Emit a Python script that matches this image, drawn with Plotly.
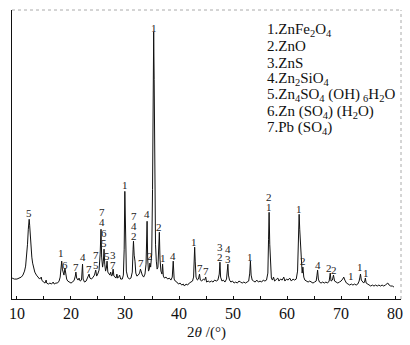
import plotly.graph_objects as go

# XRD pattern: 2theta (deg) and intensity (arb. units)
two_theta = [
    9.1, 9.5, 10.0, 10.4, 10.8, 11.1, 11.4, 11.6, 11.8, 11.95, 12.1, 12.2, 12.26, 12.35, 12.45,
    12.6, 12.75, 12.9, 13.1, 13.3, 13.6, 13.9, 14.2, 14.5, 14.6, 14.9, 15.2, 15.4, 15.5, 15.8,
    16.1, 16.4, 16.7, 16.9, 17.2, 17.5, 17.8, 18.0, 18.15, 18.28, 18.4, 18.55, 18.7, 18.88, 19.0,
    19.2, 19.4, 19.7, 20.0, 20.3, 20.6, 20.8, 20.91, 21.05, 21.3, 21.5, 21.7, 21.95, 22.05, 22.14,
    22.25, 22.5, 22.8, 23.0, 23.2, 23.35, 23.5, 23.8, 24.1, 24.35, 24.58, 24.75, 24.95, 25.2, 25.4,
    25.56, 25.68, 25.85, 26.0, 26.12, 26.25, 26.4, 26.55, 26.68, 26.82, 27.0, 27.2, 27.35, 27.5, 27.65,
    27.8, 27.95, 28.15, 28.35, 28.5, 28.65, 28.85, 29.0, 29.2, 29.5, 29.7, 29.85, 29.97, 30.1, 30.25,
    30.5, 30.8, 31.1, 31.35, 31.5, 31.57, 31.7, 31.85, 32.0, 32.2, 32.45, 32.7, 32.86, 33.0, 33.2,
    33.45, 33.7, 33.9, 34.0, 34.09, 34.2, 34.35, 34.5, 34.6, 34.75, 34.95, 35.1, 35.22, 35.31, 35.4,
    35.5, 35.65, 35.8, 35.95, 36.1, 36.25, 36.36, 36.48, 36.65, 36.85, 36.96, 37.1, 37.3, 37.6, 37.9,
    38.2, 38.5, 38.75, 38.93, 39.1, 39.3, 39.6, 39.9, 40.2, 40.5, 40.8, 41.0, 41.3, 41.6, 41.9,
    42.2, 42.5, 42.7, 42.82, 42.9, 43.0, 43.15, 43.4, 43.6, 43.8, 43.95, 44.2, 44.5, 44.75, 44.95,
    45.1, 45.4, 45.7, 46.0, 46.3, 46.6, 46.9, 47.2, 47.45, 47.58, 47.7, 47.95, 48.2, 48.5, 48.8,
    48.95, 49.05, 49.15, 49.35, 49.6, 49.9, 50.2, 50.5, 50.8, 51.1, 51.4, 51.7, 52.0, 52.3, 52.6,
    52.9, 53.1, 53.22, 53.35, 53.55, 53.8, 54.1, 54.4, 54.7, 55.0, 55.3, 55.6, 55.9, 56.2, 56.45,
    56.58, 56.68, 56.8, 56.95, 57.1, 57.3, 57.5, 57.7, 58.0, 58.3, 58.5, 58.8, 59.1, 59.4, 59.6,
    59.9, 60.2, 60.5, 60.8, 61.1, 61.4, 61.7, 61.95, 62.1, 62.24, 62.35, 62.5, 62.65, 62.8, 62.94,
    63.1, 63.3, 63.6, 63.9, 64.2, 64.5, 64.8, 65.1, 65.4, 65.55, 65.66, 65.8, 66.0, 66.3, 66.6,
    66.9, 67.2, 67.5, 67.8, 68.0, 68.15, 68.4, 68.6, 68.8, 69.1, 69.4, 69.7, 70.0, 70.3, 70.5,
    70.7, 71.0, 71.3, 71.6, 71.9, 72.2, 72.5, 72.8, 73.1, 73.35, 73.5, 73.6, 73.75, 73.95, 74.2,
    74.4, 74.5, 74.65, 74.9, 75.2, 75.5, 75.8, 76.1, 76.4, 76.7, 77.0, 77.3, 77.6, 77.9, 78.2,
    78.45, 78.66, 78.9, 79.2, 79.5, 79.8,
]
intensity = [
    21, 20, 20, 21, 22, 24, 28, 33, 42, 55, 70, 78, 80, 74, 62,
    50, 42, 36, 31, 27, 24, 22, 20, 22, 19, 17, 16, 19, 16, 15,
    16, 15, 17, 15, 16, 16, 18, 22, 32, 38, 30, 27, 24, 31, 24,
    20, 18, 17, 16, 17, 19, 23, 27, 21, 19, 21, 18, 19, 27, 35,
    20, 17, 18, 20, 22, 25, 21, 20, 22, 24, 29, 23, 25, 29, 45,
    70, 42, 32, 38, 50, 35, 28, 31, 38, 27, 25, 24, 27, 23, 24,
    30, 23, 22, 21, 25, 21, 22, 24, 20, 20, 24, 50, 108, 55, 28,
    22, 20, 21, 27, 50, 58, 44, 38, 26, 23, 24, 26, 30, 26, 24,
    22, 25, 35, 60, 78, 40, 28, 30, 36, 32, 45, 110, 230, 268, 220,
    110, 55, 38, 30, 32, 48, 67, 40, 28, 25, 35, 23, 21, 22, 20,
    21, 19, 22, 38, 20, 18, 17, 15, 16, 14, 15, 13, 15, 14, 16,
    17, 18, 22, 38, 52, 38, 22, 19, 20, 25, 19, 18, 20, 19, 22,
    17, 18, 17, 18, 17, 19, 18, 19, 25, 37, 22, 18, 19, 17, 20,
    28, 35, 24, 19, 17, 18, 16, 17, 16, 18, 17, 16, 17, 16, 17,
    18, 26, 38, 24, 19, 18, 17, 19, 17, 18, 17, 19, 18, 19, 26,
    60, 87, 55, 28, 21, 19, 22, 18, 20, 21, 18, 20, 19, 22, 18,
    20, 19, 21, 18, 20, 19, 20, 28, 55, 85, 70, 50, 30, 26, 32,
    22, 19, 18, 17, 18, 17, 16, 17, 18, 24, 29, 20, 17, 16, 17,
    16, 17, 16, 18, 26, 18, 19, 24, 18, 17, 16, 17, 18, 20, 22,
    19, 16, 15, 14, 15, 14, 15, 14, 15, 18, 22, 25, 19, 17, 16,
    18, 21, 16, 15, 14, 13, 14, 13, 14, 13, 14, 13, 14, 13, 14,
    15, 16, 14, 13, 13, 12,
]

# Peak labels: position (deg), digits from top to bottom, centre of lowest digit
label_pos = [12.26, 18.2, 18.88, 20.91, 22.14, 23.35, 24.65, 25.65, 26.15, 26.66, 27.77,
             29.97, 31.7, 32.9, 34.1, 34.65, 35.31, 36.36, 36.96, 38.85, 42.85, 43.84, 45.06,
             47.55, 49.05, 53.22, 56.72, 62.24, 63.03, 65.66, 67.85, 68.65, 71.91, 73.6, 74.65]
label_text = ["5", "1", "6", "7", "4", "7", "75", "74", "65", "5", "37",
              "1", "742", "7", "4", "2", "1", "2", "1", "4", "1", "7", "7",
              "32", "43", "1", "21", "1", "2", "4", "2", "2", "1", "1", "1"]
label_base = [86, 46, 34, 32, 42, 30, 34, 77, 56, 43, 34,
              114, 63, 36, 85, 43, 272, 72, 41, 43, 57, 31, 28,
              42, 40, 42, 92, 90, 38, 34, 31, 29, 23, 32, 26]

SP = "\u2005"
TH = "\u2009"
legend_lines = [
    "1.ZnFe<sub>2</sub>O<sub>4</sub>",
    "2.ZnO",
    "3.ZnS",
    "4.Zn<sub>2</sub>SiO<sub>4</sub>",
    "5.Zn<sub>4</sub>SO<sub>4</sub>" + SP + "(OH)" + TH + "<sub>6</sub>H<sub>2</sub>O",
    "6.Zn" + SP + "(SO<sub>4</sub>)" + SP + "(H<sub>2</sub>O)",
    "7.Pb" + SP + "(SO<sub>4</sub>)",
]

FONT = "Liberation Serif, Times New Roman, serif"

fig = go.Figure()
fig.add_trace(go.Scatter(x=two_theta, y=intensity, mode="lines",
                         line=dict(color="#111111", width=1), hoverinfo="skip"))

ann = []
for xp, txt, yb in zip(label_pos, label_text, label_base):
    for i, ch in enumerate(reversed(txt)):
        ann.append(dict(x=xp, y=yb + i * 10.2, xref="x", yref="y", text=ch,
                        showarrow=False, xanchor="center", yanchor="middle",
                        font=dict(family=FONT, size=11, color="#222222")))
for i, t in enumerate(legend_lines):
    ann.append(dict(x=55.85, y=270 - i * 16.4, xref="x", yref="y", text=t,
                    showarrow=False, xanchor="left", yanchor="middle",
                    font=dict(family=FONT, size=15, color="#111111")))

fig.update_layout(
    width=410, height=345,
    margin=dict(l=12, r=7, t=10, b=45),
    paper_bgcolor="white", plot_bgcolor="white",
    showlegend=False,
    annotations=ann,
    font=dict(family=FONT, color="#111111"),
    shapes=[
        dict(type="line", xref="paper", yref="paper", x0=0, x1=1, y0=1, y1=1,
             line=dict(color="#aaaaaa", width=1, dash="dot")),
        dict(type="line", xref="paper", yref="paper", x0=1, x1=1, y0=0, y1=1,
             line=dict(color="#aaaaaa", width=1, dash="dot")),
    ],
)
fig.update_xaxes(
    range=[9.08, 81.1], showgrid=False, zeroline=False,
    showline=True, linecolor="#111111", linewidth=1,
    ticks="inside", ticklen=3, tickcolor="#111111",
    tickvals=[10, 20, 30, 40, 50, 60, 70, 80],
    minor=dict(tickvals=[15, 25, 35, 45, 55, 65, 75], ticks="inside", ticklen=3, tickcolor="#111111"),
    tickfont=dict(family=FONT, size=16, color="#111111"),
    ticklabeloverflow="allow",
    title=dict(text="2<i>θ</i> /(°)", font=dict(family=FONT, size=15, color="#111111"), standoff=5),
)
fig.update_yaxes(
    range=[0, 290], showgrid=False, zeroline=False, showticklabels=False,
    showline=True, linecolor="#111111", linewidth=1, ticks="",
)

fig.write_html("out.html", config={"displayModeBar": False},
               post_script="document.body.style.margin='0';")
